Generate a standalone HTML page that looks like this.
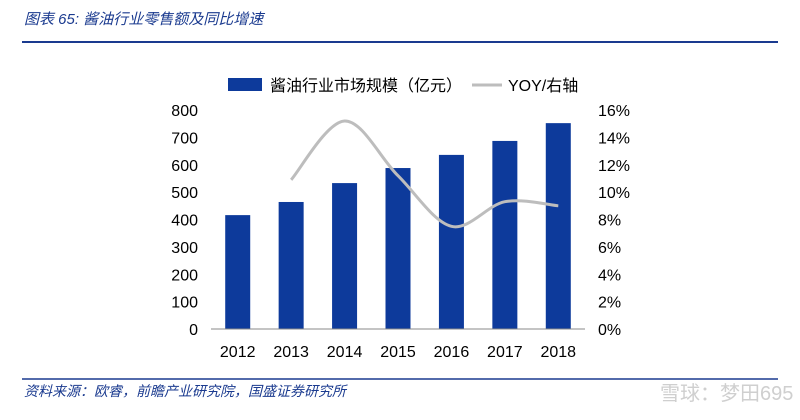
<!DOCTYPE html>
<html><head><meta charset="utf-8"><style>
body{margin:0;background:#fff;width:800px;height:415px;overflow:hidden;font-family:"Liberation Sans","Noto Sans CJK SC",sans-serif;}
</style></head><body>
<svg width="800" height="415" xmlns="http://www.w3.org/2000/svg">
<text x="24" y="24" font-size="15" fill="#1a3a8f" font-style="italic" font-family="Liberation Sans, Noto Sans CJK SC, sans-serif">图表 65:  酱油行业零售额及同比增速</text>
<line x1="22" y1="42" x2="778" y2="42" stroke="#1a3a8f" stroke-width="2"/>
<g id="plot"></g>
<line x1="22" y1="379" x2="778" y2="379" stroke="#1a3a8f" stroke-width="1.5"/>
<text x="24" y="396" font-size="14" fill="#1a3a8f" font-style="italic" font-family="Liberation Sans, Noto Sans CJK SC, sans-serif">资料来源：欧睿，前瞻产业研究院，国盛证券研究所</text>
<text x="660" y="400" font-size="20" fill="#cfcfcf" font-family="Liberation Sans, Noto Sans CJK SC, sans-serif">雪球：梦田695</text>
</svg>
<script>
const categories=["2012","2013","2014","2015","2016","2017","2018"];
const marketSize=[416,464,533,588,636,687,752];
const yoy=[null,10.9,15.2,11.2,7.5,9.3,9.0];
const leftTicks=[0,100,200,300,400,500,600,700,800];
const rightTicks=[0,2,4,6,8,10,12,14,16];
const NS="http://www.w3.org/2000/svg";
const g=document.getElementById("plot");
const x0=211,x1=585,yb=329,yt=110;
const step=(x1-x0)/categories.length;
const xS=i=>x0+step*(i+0.5);
const yL=v=>yb-(v/800)*(yb-yt);
const yR=v=>yb-(v/16)*(yb-yt);
function mk(t,a){const e=document.createElementNS(NS,t);for(const k in a)e.setAttribute(k,a[k]);g.appendChild(e);return e;}
leftTicks.forEach(v=>{const t=mk("text",{x:198,y:yL(v)+6,"font-size":16,"text-anchor":"end",fill:"#000"});t.textContent=v;

});
rightTicks.forEach(v=>{const t=mk("text",{x:598,y:yR(v)+6,"font-size":16,fill:"#000"});t.textContent=v+"%";

});
marketSize.forEach((v,i)=>{const r=mk("rect",{x:xS(i)-12.5,y:yL(v),width:25,height:yb-yL(v),fill:"#0d3a9b"});

});
const ax=mk("line",{x1:x0,y1:yb,x2:x1,y2:yb,stroke:"#888","stroke-width":1});


categories.forEach((c,i)=>{const t=mk("text",{x:xS(i),y:357,"font-size":16,"text-anchor":"middle",fill:"#000"});t.textContent=c;

});
const pts=[];yoy.forEach((v,i)=>{if(v!=null)pts.push([xS(i),yR(v)]);});
let d="M"+pts[0][0]+","+pts[0][1];
for(let i=0;i<pts.length-1;i++){const p0=pts[i-1]||pts[i],p1=pts[i],p2=pts[i+1],p3=pts[i+2]||p2;
d+=" C"+(p1[0]+(p2[0]-p0[0])/6)+","+(p1[1]+(p2[1]-p0[1])/6)+" "+(p2[0]-(p3[0]-p1[0])/6)+","+(p2[1]-(p3[1]-p1[1])/6)+" "+p2[0]+","+p2[1];}
const ln=mk("path",{d:d,fill:"none",stroke:"#bdbdbd","stroke-width":3});


const lr=mk("rect",{x:228,y:78,width:34,height:13,fill:"#0d3a9b"});


const lt=mk("text",{x:270,y:91,"font-size":16,fill:"#000"});lt.textContent="酱油行业市场规模（亿元）";


const ll=mk("line",{x1:472,y1:85,x2:502,y2:85,stroke:"#bdbdbd","stroke-width":3});


const lt2=mk("text",{x:508,y:91,"font-size":16,fill:"#000"});lt2.textContent="YOY/右轴";


</script>
</body></html>
